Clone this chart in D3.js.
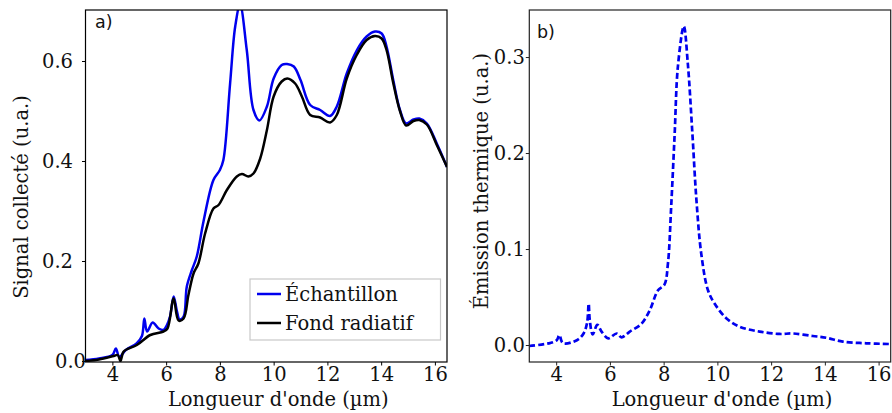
<!DOCTYPE html>
<html><head><meta charset="utf-8">
<script src="https://cdn.jsdelivr.net/npm/d3@7"></script>
<style>
html,body{margin:0;padding:0;background:#fff;}
svg{display:block;}
.tk{font-family:"DejaVu Serif",serif;font-size:19.5px;fill:#111;}
.lab{font-family:"DejaVu Serif",serif;font-size:19.5px;fill:#111;}
.pan{font-family:"DejaVu Sans",sans-serif;font-size:17.5px;fill:#111;}
</style></head><body>
<script>
// ---- data ----
const xSample = [3.0,3.5,4.0,4.13,4.26,4.5,4.9,5.1,5.19,5.29,5.5,5.72,5.9,6.03,6.15,6.28,6.4,6.5,6.65,6.77,6.96,7.14,7.39,7.76,8.0,8.13,8.38,8.57,8.75,9.0,9.25,9.47,9.75,10.0,10.3,10.5,10.75,11.0,11.36,11.73,12.1,12.35,12.72,13.1,13.46,13.77,14.02,14.2,14.45,14.7,14.93,15.2,15.42,15.7,16.07,16.45];
const ySample = [0.002,0.005,0.012,0.025,0.008,0.022,0.035,0.05,0.085,0.059,0.077,0.065,0.062,0.072,0.09,0.129,0.1,0.083,0.089,0.149,0.182,0.209,0.279,0.362,0.382,0.402,0.555,0.669,0.712,0.622,0.502,0.481,0.509,0.565,0.592,0.594,0.589,0.562,0.512,0.502,0.49,0.509,0.575,0.622,0.649,0.659,0.655,0.629,0.562,0.502,0.475,0.483,0.485,0.475,0.435,0.388];
const xBackground = [3.0,3.5,4.05,4.2,4.3,4.42,4.91,5.41,5.9,6.05,6.28,6.46,6.65,6.83,7.02,7.2,7.45,7.76,7.95,8.26,8.63,8.82,9.06,9.25,9.5,9.75,10.0,10.3,10.51,10.8,11.05,11.36,11.73,12.1,12.35,12.72,13.09,13.46,13.77,14.02,14.2,14.45,14.7,14.93,15.2,15.42,15.7,16.07,16.45];
const yBackground = [0,0.003,0.01,0.012,0.0,0.019,0.032,0.052,0.059,0.065,0.125,0.081,0.085,0.132,0.175,0.195,0.255,0.305,0.312,0.342,0.369,0.374,0.369,0.375,0.405,0.462,0.529,0.559,0.565,0.555,0.529,0.492,0.487,0.477,0.492,0.565,0.612,0.642,0.65,0.645,0.622,0.556,0.5,0.471,0.48,0.482,0.473,0.432,0.388];
const xEmission = [3.0,3.77,4.02,4.12,4.25,4.77,5.02,5.15,5.21,5.25,5.36,5.53,5.69,5.94,6.25,6.43,6.74,7.17,7.48,7.79,8.03,8.16,8.28,8.41,8.53,8.75,8.9,9.07,9.22,9.4,9.65,9.9,10.33,10.83,11.57,12.31,12.81,13.55,14.05,14.67,15.54,16.45];
const yEmission = [-0.001,0.002,0.005,0.0104,0.002,0.005,0.012,0.023,0.043,0.026,0.011,0.021,0.014,0.007,0.012,0.008,0.014,0.022,0.036,0.057,0.063,0.085,0.144,0.22,0.29,0.332,0.293,0.22,0.151,0.095,0.057,0.043,0.028,0.019,0.014,0.0115,0.012,0.0094,0.0076,0.0035,0.0018,0.001];
const xTicks = [4,6,8,10,12,14,16];
const yTicksA = [0.0,0.2,0.4,0.6];
const yTicksB = [0.0,0.1,0.2,0.3];
const legendLabels = ["Échantillon","Fond radiatif"];
const xLabel = "Longueur d'onde (µm)";
const yLabelA = "Signal collecté (u.a.)";
const yLabelB = "Émission thermique (u.a.)";

const W = 892, H = 413;
const svg = d3.select("body").append("svg").attr("width", W).attr("height", H);
const defs = svg.append("defs");

function panel(opt){
  const g = svg.append("g");
  const x = d3.scaleLinear().domain([3,16.45]).range([opt.x0,opt.x1]);
  const y = d3.scaleLinear().domain(opt.ydom).range([opt.y1,opt.y0]);
  const cid = "clip"+opt.id;
  defs.append("clipPath").attr("id",cid).append("rect")
    .attr("x",opt.x0).attr("y",opt.y0).attr("width",opt.x1-opt.x0).attr("height",opt.y1-opt.y0);
  const xa = g.append("g").attr("transform",`translate(0,${opt.y1})`)
    .call(d3.axisBottom(x).tickValues(xTicks).tickSize(3.5).tickPadding(1.5).tickFormat(d3.format("d")));
  xa.select(".domain").remove();
  xa.selectAll("line").attr("stroke",opt.frame);
  xa.selectAll("text").attr("class","tk").attr("font-size",null).attr("font-family",null).attr("fill",null).attr("dy","0.71em");
  const ya = g.append("g").attr("transform",`translate(${opt.x0},0)`)
    .call(d3.axisLeft(y).tickValues(opt.yticks).tickSize(3.5).tickPadding(opt.ypad).tickFormat(d3.format(".1f")));
  ya.select(".domain").remove();
  ya.selectAll("line").attr("stroke",opt.frame);
  ya.selectAll("text").attr("class","tk").attr("font-size",null).attr("font-family",null).attr("fill",null)
    .attr("dx", d => (opt.zeroShift && d===0) ? opt.zeroShift : 0);
  return {g,x,y,cid};
}

const A = panel({id:"a",x0:85.5,x1:447,y0:10,y1:362,ydom:[-0.002,0.702],yticks:yTicksA,frame:"#000",ypad:9,zeroShift:13});
const B = panel({id:"b",x0:529.3,x1:890.7,y0:10,y1:362,ydom:[-0.0177,0.349],yticks:yTicksB,frame:"#222",ypad:1});

const curve = d3.curveCatmullRom.alpha(0.5);
function drawLine(P, xs, ys, color, dash){
  const pts = xs.map((v,i)=>[v,ys[i]]);
  const line = d3.line().x(d=>P.x(d[0])).y(d=>P.y(d[1])).curve(curve);
  const p = P.g.append("path").attr("d",line(pts)).attr("fill","none").attr("stroke",color)
    .attr("stroke-width",2.5).attr("stroke-linejoin","round").attr("clip-path",`url(#${P.cid})`);
  if(dash) p.attr("stroke-dasharray",dash).attr("stroke-width",2.7);
}
drawLine(A, xSample, ySample, "#0000ee");
drawLine(A, xBackground, yBackground, "#000");
drawLine(B, xEmission, yEmission, "#0000ee", "6,3");

// frames
svg.append("rect").attr("x",85.5).attr("y",10).attr("width",447-85.5).attr("height",352).attr("fill","none").attr("stroke","#000").attr("stroke-width",1.2);
svg.append("rect").attr("x",529.3).attr("y",10).attr("width",890.7-529.3).attr("height",352).attr("fill","none").attr("stroke","#222").attr("stroke-width",1.2);

// panel letters
svg.append("text").attr("class","pan").attr("x",95).attr("y",28).text("a)");
svg.append("text").attr("class","pan").attr("x",537).attr("y",38).text("b)");

// axis labels
svg.append("text").attr("class","lab").attr("x",(85.5+447)/2+12).attr("y",406).attr("text-anchor","middle").text(xLabel);
svg.append("text").attr("class","lab").attr("x",(529.3+890.7)/2+12).attr("y",406).attr("text-anchor","middle").text(xLabel);
svg.append("text").attr("class","lab").attr("transform","translate(28,197) rotate(-90)").attr("text-anchor","middle").text(yLabelA);
svg.append("text").attr("class","lab").attr("transform","translate(488,181) rotate(-90)").attr("text-anchor","middle").text(yLabelB);

// legend
const lg = svg.append("g");
lg.append("rect").attr("x",250).attr("y",279).attr("width",190.5).attr("height",61).attr("fill","#fff").attr("stroke","#c8c8c8").attr("stroke-width",1.2);
const lcol = ["#0000ee","#000"];
legendLabels.forEach((t,i)=>{
  const yy = 294 + i*29;
  lg.append("line").attr("x1",257).attr("x2",281).attr("y1",yy).attr("y2",yy).attr("stroke",lcol[i]).attr("stroke-width",2.5);
  lg.append("text").attr("class","lab").attr("x",285).attr("y",yy+6.5).text(t);
});
</script>
</body></html>
